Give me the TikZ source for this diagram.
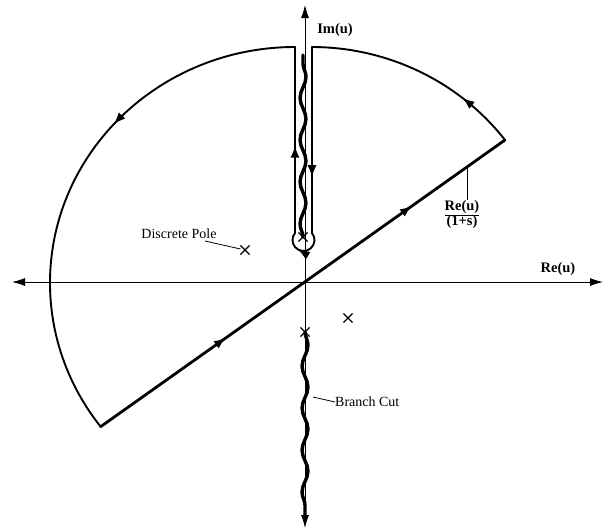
\documentclass[tikz,border=0pt]{standalone}
\usepackage{fontspec}
\setmainfont{Liberation Serif}
\usetikzlibrary{arrows.meta,decorations.pathmorphing,decorations.markings,shapes.misc}
\tikzset{
  axis/.style={line width=0.9pt, {Latex[length=13pt,width=8pt]}-{Latex[length=13pt,width=8pt]}},
  contour/.style={line width=1.9pt, line cap=round},
  diag/.style={line width=2.8pt, line cap=round},
  midarrow/.style={postaction={decorate}, decoration={markings, mark=at position #1 with {\arrow{Latex[length=12pt,width=9pt]}}}},
  twoarrows/.style 2 args={postaction={decorate}, decoration={markings,
     mark=at position #1 with {\arrow{Latex[length=12pt,width=9pt]}},
     mark=at position #2 with {\arrow{Latex[length=12pt,width=9pt]}}}},
  cut/.style={line width=3.4pt, line cap=round, decorate, decoration={snake, amplitude=3pt, segment length=42pt}},
  pole/.style={cross out, draw, line width=1.1pt, minimum size=8pt, inner sep=0pt},
  lbl/.style={font=\fontsize{14}{16}\selectfont, inner sep=0pt},
  blbl/.style={font=\fontsize{14.5}{16}\selectfont\bfseries, inner sep=0pt},
  leader/.style={line width=0.8pt}
}
\begin{document}
\begin{tikzpicture}[x=1pt,y=-1pt]
\useasboundingbox (0,0) rectangle (608,531);
% axes
\coordinate (vtop) at (305,5);
\coordinate (vbot) at (305,528);
\coordinate (hl) at (12,282);
\coordinate (hr) at (603,282);
\draw[axis] (hl) -- (hr);
\draw[axis] (vbot) -- (vtop);
% poles
\node[pole] (p1) at (245,250) {};
\node[pole] (p2) at (303,237) {};
\node[pole] (p3) at (305,332) {};
\node[pole] (p4) at (348,318) {};
% branch cuts
\coordinate (cutTop) at (303,55);
\coordinate (cutBot) at (305,517);
\draw[cut] (p2.center) -- (cutTop);
\draw[cut] (p3.center) -- (cutBot);
% contour corners
\coordinate (cLL) at (100.6,426.7);
\coordinate (cUR) at (505,140);
\coordinate (kR) at (312,47);
\coordinate (kRb) at (312,233);
\coordinate (kLb) at (295,233);
\coordinate (kL) at (295,47);
\draw[diag, twoarrows={0.31}{0.77}] (cLL) -- (cUR);
\draw[contour, midarrow=0.27] (cUR) arc[start angle=-37.3, end angle=-90, x radius=243, y radius=236];
\draw[contour, midarrow=0.7] (kR) -- (kRb);
\draw[contour, midarrow=0.62] (kRb) arc[start angle=-39.5, end angle=219.5, radius=11];
\draw[contour, midarrow=0.47] (kLb) -- (kL);
\draw[contour, midarrow=0.38] (kL) arc[start angle=-90, end angle=-217.5, x radius=245, y radius=236];
% labels
\node[blbl] (im) at (335,30) {Im(u)};
\node[blbl] (re) at (558,269) {Re(u)};
\node[blbl] (frac) at (462,215) {\renewcommand\arraystretch{0.9}\begin{tabular}{@{}c@{}}Re(u)\\\hline (1+s)\end{tabular}};
\coordinate (fracLead) at (467,167);
\draw[leader] (fracLead) -- (fracLead |- frac.north);
\node[lbl] (dp) at (179,234) {Discrete Pole};
\coordinate (dpLead) at (205,241);
\draw[leader] (dpLead) -- (p1);
\node[lbl, anchor=west] (bc) at (335,402) {Branch Cut};
\coordinate (bcLead) at (313,397);
\draw[leader] (bcLead) -- (bc.west);
\end{tikzpicture}
\end{document}
